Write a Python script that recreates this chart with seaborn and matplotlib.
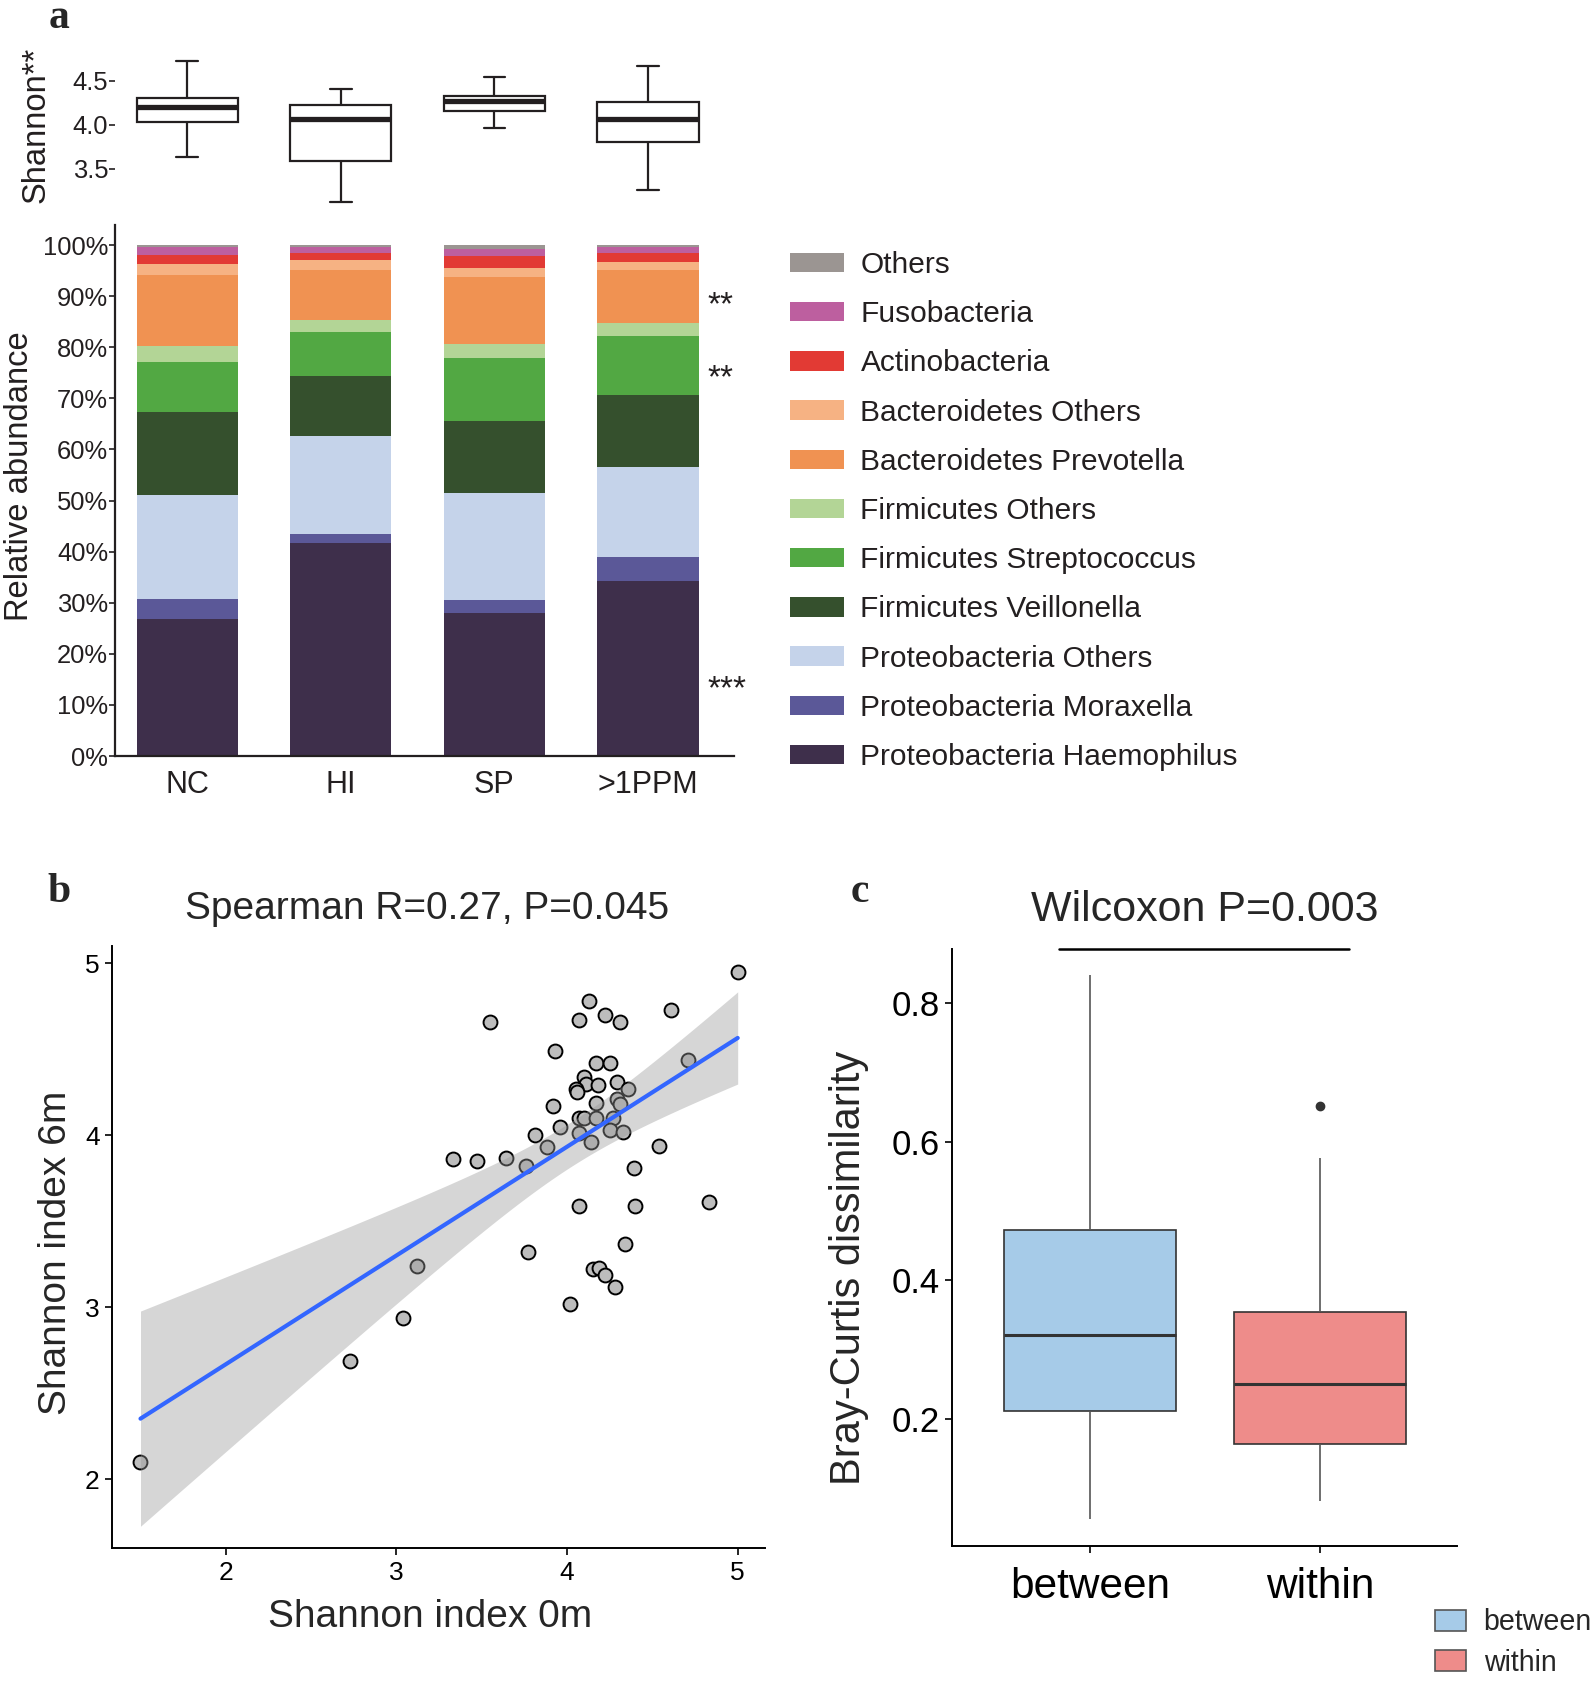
import numpy as np
import pandas as pd
import matplotlib
matplotlib.use("Agg")
import matplotlib.pyplot as plt
from matplotlib.patches import Patch
import seaborn as sns

# ---------------- data ----------------
groups = ["NC", "HI", "SP", ">1PPM"]

# Shannon box summary per group: low whisker, Q1, median, Q3, high whisker
shannon_nc = [3.63, 4.03, 4.20, 4.30, 4.72]
shannon_hi = [3.12, 3.59, 4.07, 4.22, 4.41]
shannon_sp = [3.96, 4.15, 4.27, 4.33, 4.54]
shannon_ppm = [3.26, 3.80, 4.07, 4.26, 4.66]

taxa = ["Others", "Fusobacteria", "Actinobacteria", "Bacteroidetes Others",
        "Bacteroidetes Prevotella", "Firmicutes Others", "Firmicutes Streptococcus",
        "Firmicutes Veillonella", "Proteobacteria Others", "Proteobacteria Moraxella",
        "Proteobacteria Haemophilus"]
taxa_colors = ["#9b9592", "#bd5f9f", "#e23a34", "#f6b283", "#f09252", "#b3d596",
               "#52a843", "#35502d", "#c5d3ea", "#5b5898", "#3e2f4b"]

# relative abundance (%), same order as taxa (top of bar first)
abund_nc = [0.3, 1.6, 1.8, 2.2, 13.8, 3.1, 9.9, 16.2, 20.4, 3.8, 26.9]
abund_hi = [0.4, 1.1, 1.5, 1.9, 9.7, 2.5, 8.6, 11.6, 19.2, 1.8, 41.7]
abund_sp = [0.8, 1.4, 2.2, 1.8, 13.1, 2.8, 12.3, 14.1, 20.9, 2.6, 28.0]
abund_ppm = [0.4, 1.1, 1.9, 1.5, 10.4, 2.5, 11.6, 14.1, 17.6, 4.7, 34.2]

signif_marks = ["**", "**", "***"]
signif_y = [88.2, 73.8, 13.0]

# panel b: Shannon index at 0m vs 6m
shannon_0m = [1.50, 5.00, 4.13, 4.22, 4.07, 4.31, 3.55, 4.61, 3.93, 4.17, 4.25,
              4.71, 4.10, 4.11, 4.18, 4.29, 4.36, 4.05, 4.06, 4.29, 4.31, 4.17,
              3.92, 4.07, 4.10, 4.17, 4.27, 3.96, 3.81, 4.07, 4.25, 4.33, 4.14,
              3.88, 4.54, 3.33, 3.47, 3.64, 3.76, 4.39, 4.07, 4.40, 4.83, 3.77,
              4.34, 3.12, 4.15, 4.19, 4.22, 4.28, 4.02, 3.04, 2.73]
shannon_6m = [2.10, 4.95, 4.78, 4.70, 4.67, 4.66, 4.66, 4.73, 4.49, 4.42, 4.42,
              4.44, 4.34, 4.30, 4.29, 4.31, 4.27, 4.27, 4.25, 4.21, 4.18, 4.19,
              4.17, 4.10, 4.10, 4.10, 4.10, 4.05, 4.00, 4.01, 4.03, 4.02, 3.96,
              3.93, 3.94, 3.86, 3.85, 3.87, 3.82, 3.81, 3.59, 3.59, 3.61, 3.32,
              3.37, 3.24, 3.22, 3.23, 3.19, 3.12, 3.02, 2.94, 2.69]

# panel c: Bray-Curtis dissimilarity
comparisons = ["between", "within"]
bc_between = [0.056, 0.211, 0.321, 0.473, 0.840]
bc_within = [0.082, 0.120, 0.164, 0.200, 0.251, 0.300, 0.355, 0.577, 0.651]
comp_colors = ["#a6cbe8", "#ee8c8a"]

# ---------------- style ----------------
sns.set_style("white")
plt.rcParams["font.family"] = ["Liberation Sans", "DejaVu Sans"]
ink = "#231f20"

W, H = 1593, 1686
fig = plt.figure(figsize=(W / 100, H / 100), dpi=100)


def px_box(x0, y0, x1, y1):
    return [x0 / W, 1 - y1 / H, (x1 - x0) / W, (y1 - y0) / H]


# ---------------- panel a: Shannon boxes ----------------
ax_sh = fig.add_axes(px_box(115, 50, 734, 215))
sh_df = pd.DataFrame({
    "group": np.repeat(groups, 5),
    "shannon": shannon_nc + shannon_hi + shannon_sp + shannon_ppm,
})
sns.boxplot(data=sh_df, x="group", y="shannon", order=groups, ax=ax_sh,
            whis=(0, 100), width=0.66, color="white", linecolor=ink,
            linewidth=1.6, medianprops=dict(linewidth=3.8), capwidths=0.14)
ax_sh.set_xlim(-0.47, 3.56)
ax_sh.set_ylim(2.976, 4.847)
ax_sh.set_yticks([3.5, 4.0, 4.5])
ax_sh.set_yticklabels(["3.5", "4.0", "4.5"])
ax_sh.set_xticks([])
ax_sh.set_xlabel("")
for s in ax_sh.spines.values():
    s.set_visible(False)
ax_sh.tick_params(axis="y", left=True, length=4, width=1.2, pad=1,
                  labelsize=18.4, color=ink, labelcolor=ink)
ax_sh.set_ylabel("Shannon**", fontsize=23.6, color=ink)
ax_sh.yaxis.set_label_coords(-0.102, 0.545)
ax_sh.patch.set_alpha(0)

# ---------------- panel a: stacked bars ----------------
ax_bar = fig.add_axes(px_box(115, 224.6, 734, 756))
bar_rows = []
for g, vals in zip(groups, [abund_nc, abund_hi, abund_sp, abund_ppm]):
    for t, v in zip(taxa, vals):
        bar_rows.append({"group": g, "taxon": t, "pct": v})
bar_df = pd.DataFrame(bar_rows)
bar_df["group"] = pd.Categorical(bar_df["group"], categories=groups, ordered=True)
sns.histplot(data=bar_df, x="group", weights="pct", hue="taxon", hue_order=taxa,
             palette=dict(zip(taxa, taxa_colors)), multiple="stack",
             discrete=True, shrink=0.66, alpha=1, linewidth=0, legend=False,
             ax=ax_bar)
ax_bar.set_xlim(-0.47, 3.56)
ax_bar.set_ylim(0, 104)
ax_bar.set_yticks(range(0, 101, 10))
ax_bar.set_yticklabels([f"{v}%" for v in range(0, 101, 10)])
ax_bar.set_xticks(range(len(groups)))
ax_bar.set_xticklabels(groups)
ax_bar.set_xlabel("")
ax_bar.set_ylabel("Relative abundance", fontsize=23.6, color=ink)
ax_bar.yaxis.set_label_coords(-0.129, 0.527)
sns.despine(ax=ax_bar)
for s in ["left", "bottom"]:
    ax_bar.spines[s].set_linewidth(1.6)
    ax_bar.spines[s].set_color(ink)
ax_bar.tick_params(axis="y", left=True, length=4, width=1.2, pad=1,
                   labelsize=18.4, color=ink, labelcolor=ink)
ax_bar.tick_params(axis="x", bottom=False, length=0, pad=10,
                   labelsize=22, labelcolor=ink)
for mark, yv in zip(signif_marks, signif_y):
    ax_bar.text(3.385, yv, mark, ha="left", va="center", fontsize=24,
                color=ink)

handles = [Patch(facecolor=c, edgecolor="none") for c in taxa_colors]
fig.legend(handles, taxa, loc="upper left",
           bbox_to_anchor=(790 / W, 1 - 251 / H), frameon=False,
           fontsize=21.5, handlelength=1.81, handleheight=0.62,
           handletextpad=0.55, labelspacing=0.71, borderpad=0,
           borderaxespad=0, labelcolor=ink)

# ---------------- panel b: scatter + regression ----------------
ax_sc = fig.add_axes(px_box(112, 946, 765, 1548))
sns.scatterplot(x=shannon_0m, y=shannon_6m, ax=ax_sc, s=100,
                color="#bdbdbd", edgecolor="black", linewidth=1.4, zorder=2)
sns.regplot(x=shannon_0m, y=shannon_6m, ax=ax_sc, scatter=False, ci=None,
            color="#3366ff", line_kws=dict(linewidth=3, zorder=4))

# 95% confidence band of the linear fit (t-based, like ggplot's geom_smooth)
x_arr = np.asarray(shannon_0m)
y_arr = np.asarray(shannon_6m)
slope, intercept = np.polyfit(x_arr, y_arr, 1)
n_obs = len(x_arr)
resid_sd = np.sqrt(np.sum((y_arr - (intercept + slope * x_arr)) ** 2) / (n_obs - 2))
x_grid = np.linspace(x_arr.min(), x_arr.max(), 200)
fit = intercept + slope * x_grid
se_fit = resid_sd * np.sqrt(1 / n_obs + (x_grid - x_arr.mean()) ** 2
                            / np.sum((x_arr - x_arr.mean()) ** 2))
t_crit = 2.008  # t(0.975, df=51)
ax_sc.fill_between(x_grid, fit - t_crit * se_fit, fit + t_crit * se_fit,
                   color="#999999", alpha=0.4, linewidth=0, zorder=3)

ax_sc.set_xlim(1.333, 5.16)
ax_sc.set_ylim(1.60, 5.10)
ax_sc.set_xticks([2, 3, 4, 5])
ax_sc.set_yticks([2, 3, 4, 5])
sns.despine(ax=ax_sc)
for s in ["left", "bottom"]:
    ax_sc.spines[s].set_linewidth(1.4)
    ax_sc.spines[s].set_color("black")
ax_sc.tick_params(axis="both", bottom=True, left=True, length=5, width=1.2,
                  labelsize=19, colors="black", pad=4)
ax_sc.set_xlabel("Shannon index 0m", fontsize=28)
ax_sc.set_ylabel("Shannon index 6m", fontsize=28)
ax_sc.xaxis.set_label_coords(0.487, -0.085)
ax_sc.yaxis.set_label_coords(-0.058, 0.49)
ax_sc.text(0.482, 1.061, "Spearman R=0.27, P=0.045", transform=ax_sc.transAxes,
           ha="center", va="center", fontsize=28)

# ---------------- panel c: Bray-Curtis boxes ----------------
ax_bc = fig.add_axes(px_box(952, 949, 1457, 1546))
bc_df = pd.DataFrame({
    "comparison": ["between"] * len(bc_between) + ["within"] * len(bc_within),
    "value": bc_between + bc_within,
})
sns.boxplot(data=bc_df, x="comparison", y="value", hue="comparison",
            order=comparisons, hue_order=comparisons,
            palette=dict(zip(comparisons, comp_colors)), saturation=1,
            width=0.75, showcaps=False, linecolor="#333333", linewidth=1.2,
            medianprops=dict(linewidth=2.2),
            whiskerprops=dict(color="#555555"),
            flierprops=dict(marker="o", markersize=6, markerfacecolor="#333333",
                            markeredgecolor="#333333"),
            legend=False, ax=ax_bc)
ax_bc.set_xlim(-0.6, 1.596)
ax_bc.set_ylim(0.017, 0.878)
ax_bc.set_yticks([0.2, 0.4, 0.6, 0.8])
ax_bc.set_yticklabels(["0.2", "0.4", "0.6", "0.8"])
sns.despine(ax=ax_bc)
for s in ["left", "bottom"]:
    ax_bc.spines[s].set_linewidth(1.4)
    ax_bc.spines[s].set_color("black")
ax_bc.tick_params(axis="y", left=True, length=5, width=1.2, labelsize=25,
                  colors="black", pad=4)
ax_bc.tick_params(axis="x", bottom=True, length=5, width=1.2, labelsize=30.5,
                  colors="black", pad=10)
ax_bc.set_xlabel("")
ax_bc.set_ylabel("Bray-Curtis dissimilarity", fontsize=30)
ax_bc.yaxis.set_label_coords(-0.165, 0.466)
ax_bc.text(0.5, 1.065, "Wilcoxon P=0.003", transform=ax_bc.transAxes,
           ha="center", va="center", fontsize=31)
ax_bc.plot([0 - 0.135, 1 + 0.126], [0.878, 0.878], color="black", lw=1.8,
           clip_on=False)

bc_handles = [Patch(facecolor=c, edgecolor="#555555", linewidth=1.2)
              for c in comp_colors]
fig.legend(bc_handles, comparisons, loc="upper left",
           bbox_to_anchor=(1435 / W, 1 - 1608 / H), frameon=False,
           fontsize=20.6, handlelength=1.1, handleheight=0.75,
           handletextpad=0.6, labelspacing=0.45, borderpad=0, borderaxespad=0)

# ---------------- panel letters ----------------
for letter, (lx, ly) in zip(["a", "b", "c"], [(59, 18), (59, 892), (860, 892)]):
    fig.text(lx / W, 1 - ly / H, letter, fontsize=30, fontweight="bold",
             family=["Liberation Serif", "DejaVu Serif"], ha="center", va="center")

fig.savefig("out.png", dpi=100)
